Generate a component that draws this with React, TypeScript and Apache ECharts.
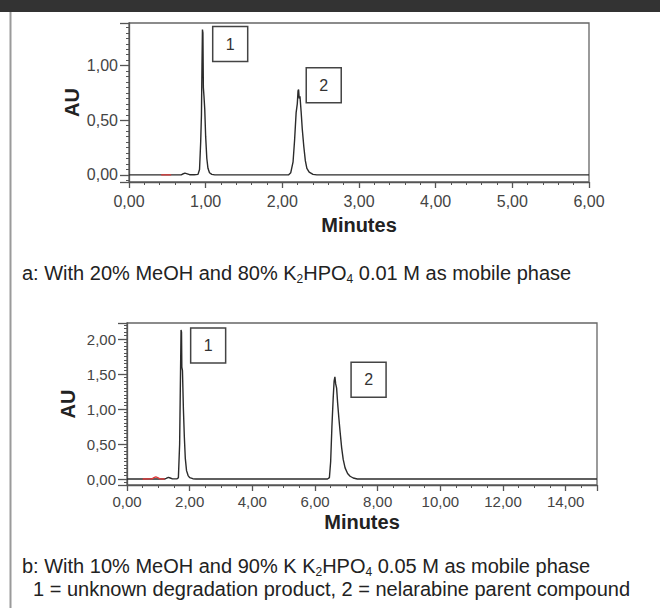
import React, { useEffect, useRef } from "react";
import * as echarts from "echarts";

// ---- Chromatogram a (20% MeOH) ----
const timeA = [0, 0.42, 0.55, 0.68, 0.70, 0.73, 0.76, 0.79, 0.85, 0.90, 0.92, 0.935, 0.945, 0.952, 0.958, 0.964, 0.970, 0.978, 0.988, 1.00, 1.015, 1.03, 1.05, 1.08, 1.12, 2.08, 2.11, 2.14, 2.16, 2.18, 2.195, 2.205, 2.212, 2.22, 2.23, 2.245, 2.26, 2.28, 2.30, 2.32, 2.35, 2.40, 2.45, 6.0];
const auA = [0, 0, 0, 0, 0.008, 0.016, 0.01, 0.002, 0.002, 0.005, 0.05, 0.30, 0.55, 1.0, 1.33, 1.30, 0.80, 0.72, 0.60, 0.35, 0.15, 0.06, 0.02, 0.005, 0, 0, 0.02, 0.12, 0.32, 0.57, 0.65, 0.77, 0.78, 0.70, 0.72, 0.58, 0.42, 0.26, 0.13, 0.06, 0.025, 0.005, 0, 0];
const redTimeA = [0.42, 0.55];
const redAuA = [0, 0];

// ---- Chromatogram b (10% MeOH) ----
const timeB = [0, 0.5, 1.2, 1.25, 1.32, 1.38, 1.45, 1.60, 1.64, 1.68, 1.71, 1.725, 1.74, 1.75, 1.77, 1.80, 1.83, 1.86, 1.90, 1.95, 2.00, 2.10, 2.20, 6.40, 6.46, 6.50, 6.54, 6.58, 6.61, 6.635, 6.66, 6.69, 6.72, 6.76, 6.80, 6.85, 6.90, 6.96, 7.04, 7.12, 7.22, 7.35, 15];
const auB = [0, 0, 0, 0.01, 0.025, 0.015, 0.003, 0.003, 0.02, 0.5, 1.6, 2.13, 2.10, 1.6, 1.55, 1.0, 0.6, 0.3, 0.12, 0.05, 0.02, 0.005, 0, 0, 0.02, 0.25, 0.75, 1.15, 1.40, 1.46, 1.36, 1.30, 1.10, 0.88, 0.68, 0.45, 0.28, 0.16, 0.08, 0.04, 0.015, 0, 0];
const redTimeB = [0.5, 0.8, 0.86, 0.92, 0.98, 1.05, 1.2];
const redAuB = [0, 0.003, 0.02, 0.03, 0.02, 0.003, 0];

// ---- Peak labels (data coordinates of the boxes) ----
const peakNames = ["1", "2"];
const peakLabelTimeA = [1.32, 2.54];
const peakLabelAuA = [1.197, 0.82];
const peakLabelTimeB = [2.59, 7.71];
const peakLabelAuB = [1.91, 1.42];

// ---- Texts ----
const captionA = "{n|a: With 20% MeOH and 80% K}{s|2}{n|HPO}{s|4}{n| 0.01 M as mobile phase}";
const captionB1 = "{n|b: With 10% MeOH and 90% K K}{s|2}{n|HPO}{s|4}{n| 0.05 M as mobile phase}";
const captionB2 = "1 = unknown degradation product, 2 = nelarabine parent compound";
const xTitle = "Minutes";
const yTitle = "AU";

const FONT = "'Liberation Sans', Arial, Helvetica, sans-serif";
const zip = (t: number[], v: number[]) => t.map((x, i) => [x, v[i]]);
const fmt = (v: number) => v.toFixed(2).replace(".", ",");

export default function App() {
  const ref = useRef<HTMLDivElement>(null);
  useEffect(() => {
    if (!ref.current) return;
    const chart = echarts.init(ref.current, undefined, { renderer: "svg" });
    const axisColor = "#555";
    const mkX = (gi: number, max: number, interval: number, minorSplit: number, fs: number, margin: number, nameGap: number) => ({
      type: "value",
      gridIndex: gi,
      min: 0,
      max,
      interval,
      axisLine: { show: true, onZero: false, lineStyle: { color: axisColor, width: 1.3 } },
      axisTick: { show: true, length: 6, lineStyle: { color: axisColor, width: 1.3 } },
      minorTick: { show: true, splitNumber: minorSplit, length: 3, lineStyle: { color: axisColor, width: 1 } },
      splitLine: { show: false },
      axisLabel: {
        margin,
        fontSize: fs,
        color: "#444",
        fontFamily: FONT,
        formatter: (v: number) => (Math.abs(v / interval - Math.round(v / interval)) < 1e-6 && v <= max ? fmt(v) : ""),
      },
      name: xTitle,
      nameLocation: "middle",
      nameGap,
      nameMoveOverlap: false,
      nameTextStyle: { fontSize: 20, fontWeight: "bold", color: "#222", fontFamily: FONT },
    });
    const mkY = (gi: number, min: number, max: number, split: number, fs: number, nameGap: number) => ({
      type: "value",
      gridIndex: gi,
      min,
      max,
      splitNumber: split,
      axisLine: { show: true, onZero: false, lineStyle: { color: axisColor, width: 1.3 } },
      axisTick: { show: true, length: 9, lineStyle: { color: axisColor, width: 1.3 } },
      minorTick: { show: true, splitNumber: 10, length: 3, lineStyle: { color: axisColor, width: 1 } },
      splitLine: { show: false },
      axisLabel: {
        margin: 11,
        fontSize: fs,
        color: "#444",
        fontFamily: FONT,
        formatter: (v: number) => (Math.abs(v * 2 - Math.round(v * 2)) < 1e-6 ? fmt(v) : ""),
      },
      name: yTitle,
      nameLocation: "middle",
      nameGap,
      nameMoveOverlap: false,
      nameTextStyle: { fontSize: 20, fontWeight: "bold", color: "#222", fontFamily: FONT },
    });
    const markBoxes = (times: number[], aus: number[]) => ({
      symbol: "rect",
      symbolSize: 35,
      silent: true,
      itemStyle: { color: "#fff", borderColor: "#444", borderWidth: 1.5 },
      label: { show: true, position: "inside", formatter: "{b}", color: "#333", fontSize: 16, fontFamily: FONT },
      data: peakNames.map((n, i) => ({ name: n, coord: [times[i], aus[i]] })),
    });
    const textStyleRich = {
      n: { fontSize: 20, lineHeight: 24, fontFamily: FONT, fill: "#222" },
      s: { fontSize: 12, lineHeight: 12, verticalAlign: "bottom", fontFamily: FONT, fill: "#222" },
    };
    chart.setOption({
      animation: false,
      backgroundColor: "#fff",
      grid: [
        { left: 129, top: 23, width: 460, height: 159, show: true, borderColor: "#666", borderWidth: 1.3, backgroundColor: "transparent" },
        { left: 127, top: 323, width: 470, height: 162, show: true, borderColor: "#666", borderWidth: 1.3, backgroundColor: "transparent" },
      ],
      xAxis: [mkX(0, 6, 1, 5, 16, 11, 33), mkX(1, 15, 2, 4, 15, 9, 27)],
      yAxis: [mkY(0, -0.065, 1.39, 3, 16, 47), mkY(1, -0.085, 2.23, 4, 15, 49)],
      series: [
        {
          type: "line", xAxisIndex: 0, yAxisIndex: 0, showSymbol: false, symbol: "none",
          lineStyle: { color: "#2b2b2b", width: 1.4 }, data: zip(timeA, auA),
          markPoint: markBoxes(peakLabelTimeA, peakLabelAuA),
        },
        {
          type: "line", xAxisIndex: 0, yAxisIndex: 0, showSymbol: false, symbol: "none",
          lineStyle: { color: "#e03a3a", width: 1.4 }, data: zip(redTimeA, redAuA),
        },
        {
          type: "line", xAxisIndex: 1, yAxisIndex: 1, showSymbol: false, symbol: "none",
          lineStyle: { color: "#2b2b2b", width: 1.4 }, data: zip(timeB, auB),
          markPoint: markBoxes(peakLabelTimeB, peakLabelAuB),
        },
        {
          type: "line", xAxisIndex: 1, yAxisIndex: 1, showSymbol: false, symbol: "none",
          lineStyle: { color: "#e03a3a", width: 1.4 }, data: zip(redTimeB, redAuB),
        },
      ],
      graphic: [
        { type: "rect", shape: { x: 0, y: 0, width: 660, height: 12 }, style: { fill: "#333" }, silent: true },
        { type: "line", shape: { x1: 10.5, y1: 12, x2: 10.5, y2: 608 }, style: { stroke: "#9a9a9a", lineWidth: 2 }, silent: true },
        { type: "text", x: 22, y: 273, silent: true, style: { text: captionA, rich: textStyleRich, verticalAlign: "middle", align: "left" } },
        { type: "text", x: 22, y: 566, silent: true, style: { text: captionB1, rich: textStyleRich, verticalAlign: "middle", align: "left" } },
        { type: "text", x: 33, y: 589, silent: true, style: { text: captionB2, font: `20px ${FONT}`, fill: "#222", verticalAlign: "middle", align: "left" } },
      ],
    });
    return () => chart.dispose();
  }, []);
  return <div ref={ref} style={{ position: "fixed", left: 0, top: 0, width: 660, height: 608 }} />;
}
